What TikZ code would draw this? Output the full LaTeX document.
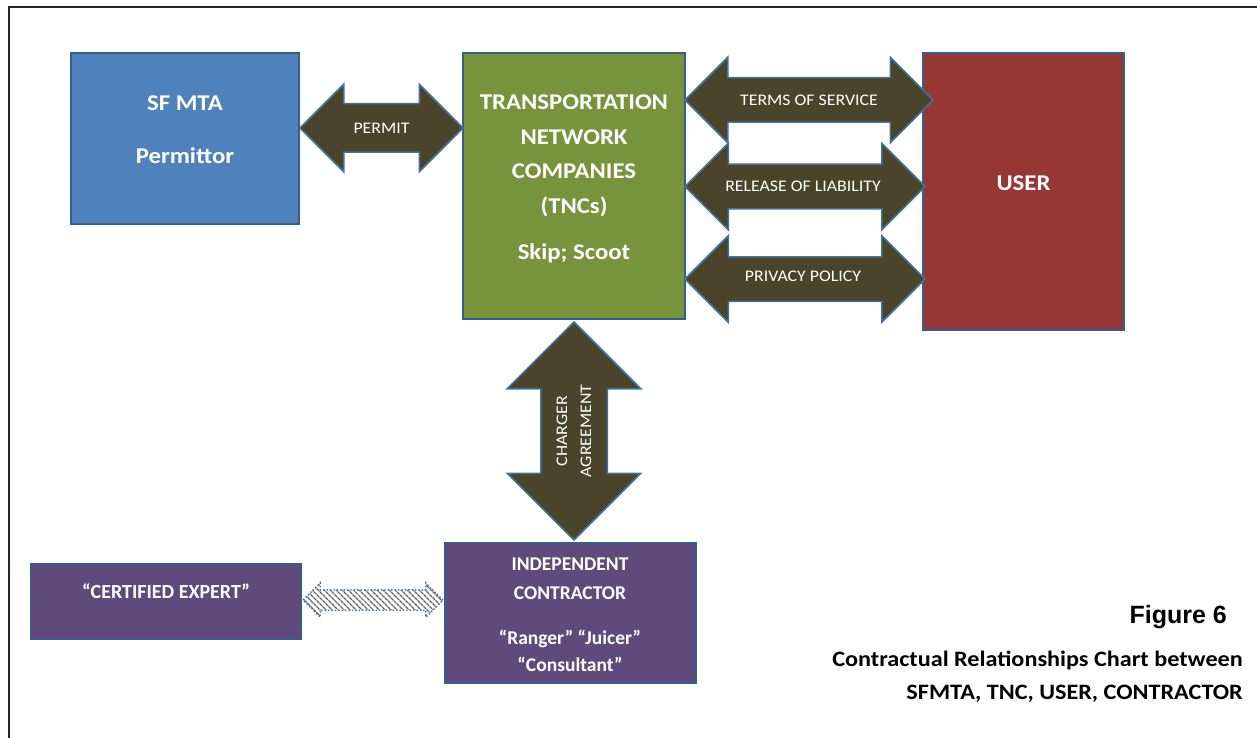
\documentclass[tikz,border=0pt]{standalone}
\usepackage{fontspec}
\setmainfont{Carlito}
\newfontfamily\widefont[FakeStretch=1.1]{Carlito}
\newfontfamily\arialfont{Liberation Sans}
\usetikzlibrary{shapes.arrows,patterns.meta}

\definecolor{mtablue}{HTML}{4F81BD}
\definecolor{tncgreen}{HTML}{77933C}
\definecolor{userred}{HTML}{953735}
\definecolor{contrpurple}{HTML}{604A7B}
\definecolor{edgeblue}{HTML}{385D8A}
\definecolor{arrowedge}{HTML}{41719C}
\definecolor{arrowfill}{HTML}{4A442A}

\tikzset{
  box/.style={rectangle, draw=edgeblue, line width=1.5pt, inner sep=0pt},
  boxtext/.style={text=white, font=\widefont\bfseries\fontsize{22.5}{34.5}\selectfont, align=center, inner sep=0pt, anchor=north},
  bigarrow/.style 2 args={double arrow, draw=arrowedge, fill=arrowfill, line width=1.5pt,
    inner xsep=0pt, inner ysep=#1, double arrow head extend=#2},
  hatcharrow/.style={double arrow, draw=arrowedge, dotted, line width=1.4pt,
    pattern={Lines[angle=-45, distance=4pt, line width=1.4pt]}, pattern color=black!60,
    inner xsep=0pt, inner ysep=9.5pt, double arrow head extend=7pt},
  arrowtext/.style={text=white, font=\widefont\fontsize{16.2}{24}\selectfont, inner sep=0pt},
}

\begin{document}
\begin{tikzpicture}[x=1pt, y=-1pt]
\useasboundingbox (0,0) rectangle (1257,738);
\draw[line width=2pt, black!85] (9,745) -- (9,7) -- (1265,7);

% parties
\node[box, fill=mtablue, minimum width=228, minimum height=171] (mta) at (185,138.5) {};
\node[box, fill=tncgreen, minimum width=222, minimum height=266] (tnc) at (574,186) {};
\node[box, fill=userred, minimum width=201, minimum height=277] (user) at (1023.5,191.5) {};
\node[box, fill=contrpurple, minimum width=251, minimum height=140] (ic) at (570.5,613) {};
\node[box, fill=contrpurple, minimum width=270, minimum height=75] (ce) at (166,601.5) {};

\node[boxtext] (mtatxt) at (185,96) {SF MTA\\[18pt]Permittor};
\node[boxtext] (tnctxt) at (574,95) {TRANSPORTATION\\NETWORK\\COMPANIES\\(TNCs)\\[12pt]Skip; Scoot};
\node[boxtext, anchor=base] (usertxt) at (1023.5,190) {USER};
\node[boxtext, font=\bfseries\fontsize{19.5}{29}\selectfont] (ictxt) at (570,558)
  {INDEPENDENT\\CONTRACTOR\\[16pt]“Ranger” “Juicer”\\[-2pt]“Consultant”};
\node[boxtext, anchor=base, font=\bfseries\fontsize{20}{24}\selectfont] (cetxt) at (166,598) {“CERTIFIED EXPERT”};

% agreements
\node[bigarrow={23.5pt}{19.5pt}, minimum height=163] (permit) at (381.5,128) {};
\node[bigarrow={21.5pt}{20.5pt}, minimum height=248] (terms) at (809,100) {};
\node[bigarrow={21.5pt}{21pt}, minimum height=240] (release) at (805,186.5) {};
\node[bigarrow={21.5pt}{21pt}, minimum height=240] (privacy) at (805,279) {};
\node[bigarrow={32.5pt}{33.5pt}, rotate=90, minimum height=218] (charger) at (574,431) {};
\node[hatcharrow, minimum height=140] (expert) at (373,600) {};

\node[arrowtext] (permitlbl) at (permit) {PERMIT};
\node[arrowtext] (termslbl) at (terms) {TERMS OF SERVICE};
\node[arrowtext] (releaselbl) at (803,186) {RELEASE OF LIABILITY};
\node[arrowtext] (privacylbl) at (803,276) {PRIVACY POLICY};
\node[arrowtext, rotate=90, align=center] (chargerlbl) at (charger) {CHARGER\\AGREEMENT};

% caption
\node[anchor=base east, inner sep=0pt, font=\arialfont\bfseries\fontsize{25}{30}\selectfont] (fig) at (1227,623) {Figure 6};
\node[anchor=north east, align=right, inner sep=0pt, font=\widefont\bfseries\fontsize{22}{33}\selectfont] (caption) at (1243,651)
  {Contractual Relationships Chart between\\SFMTA, TNC, USER, CONTRACTOR};
\end{tikzpicture}
\end{document}
